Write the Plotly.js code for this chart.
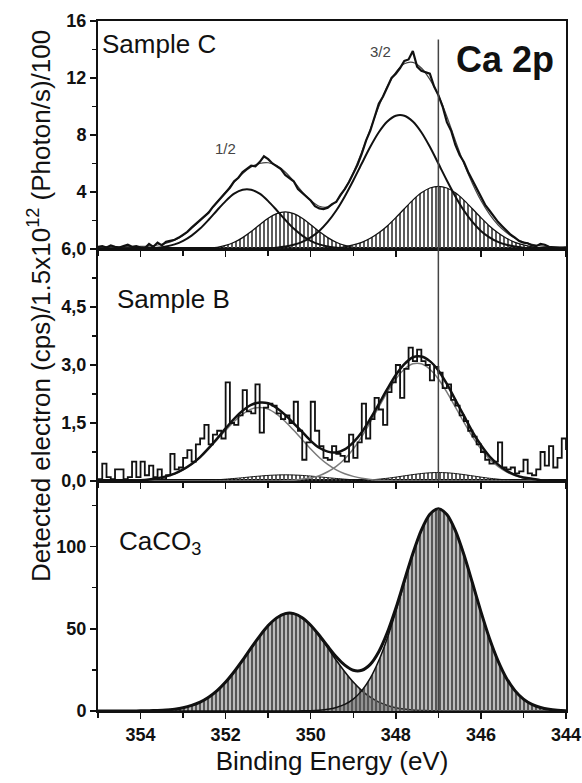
<!DOCTYPE html>
<html>
<head>
<meta charset="utf-8">
<script src="https://cdn.plot.ly/plotly-3.0.1.min.js"></script>
<style>html,body{margin:0;padding:0;background:#fff;}#chart{width:582px;height:783px;}</style>
</head>
<body>
<div id="chart"></div>
<script>
// ---------- DATA (binding energy in eV) ----------
const energyFine = [
355.0,354.9,354.8,354.7,354.6,354.5,354.4,354.3,354.2,354.1,
354.0,353.9,353.8,353.7,353.6,353.5,353.4,353.3,353.2,353.1,
353.0,352.9,352.8,352.7,352.6,352.5,352.4,352.3,352.2,352.1,
352.0,351.9,351.8,351.7,351.6,351.5,351.4,351.3,351.2,351.1,
351.0,350.9,350.8,350.7,350.6,350.5,350.4,350.3,350.2,350.1,
350.0,349.9,349.8,349.7,349.6,349.5,349.4,349.3,349.2,349.1,
349.0,348.9,348.8,348.7,348.6,348.5,348.4,348.3,348.2,348.1,
348.0,347.9,347.8,347.7,347.6,347.5,347.4,347.3,347.2,347.1,
347.0,346.9,346.8,346.7,346.6,346.5,346.4,346.3,346.2,346.1,
346.0,345.9,345.8,345.7,345.6,345.5,345.4,345.3,345.2,345.1,
345.0,344.9,344.8,344.7,344.6,344.5,344.4,344.3,344.2,344.1,
344.0];
const energyCoarse = [
355.0,354.8,354.6,354.4,354.2,354.0,353.8,353.6,353.4,353.2,
353.0,352.8,352.6,352.4,352.2,352.0,351.8,351.6,351.4,351.2,
351.0,350.8,350.6,350.4,350.2,350.0,349.8,349.6,349.4,349.2,
349.0,348.8,348.6,348.4,348.2,348.0,347.8,347.6,347.4,347.2,
347.0,346.8,346.6,346.4,346.2,346.0,345.8,345.6,345.4,345.2,
345.0,344.8,344.6,344.4,344.2,344.0];

// Sample C (panel top, units (Photon/s)/100)
const sampleC_data = [
0.15,0.2,0.1,0.25,0.15,0.1,0.2,0.3,0.15,0.2,
0.1,0.05,0.35,0.15,0.45,0.25,0.5,0.55,0.65,0.8,
1.0,1.2,1.5,1.75,2.0,2.25,2.55,2.95,3.3,3.6,
4.0,4.3,4.75,5.0,5.4,5.6,5.85,5.8,6.1,6.5,
6.3,6.0,5.8,5.6,5.2,5.0,4.75,4.2,3.95,3.65,
3.4,3.0,2.85,2.8,2.9,3.15,3.3,3.8,4.2,4.7,
5.3,5.9,6.7,7.6,8.3,9.2,10.2,10.7,11.3,12.0,
12.3,12.7,13.2,13.3,13.9,12.8,12.5,12.4,12.3,11.4,
10.8,10.0,8.9,8.3,7.3,6.6,6.1,5.4,4.8,4.2,
3.6,3.1,2.7,2.3,1.9,1.6,1.3,1.0,0.8,0.55,
0.45,0.4,0.25,0.2,0.35,0.3,0.15,0.1,0.1,0.05,
0.1];
const sampleC_envelope = [
0.15,0.15,0.15,0.16,0.17,0.18,0.2,0.28,0.4,0.62,
0.95,1.45,2.0,2.6,3.3,4.0,4.7,5.3,5.75,6.0,
6.05,5.85,5.4,4.75,4.0,3.4,3.0,2.95,3.35,4.2,
5.35,6.8,8.4,10.0,11.4,12.4,13.0,13.1,12.7,11.9,
10.8,9.3,7.6,6.0,4.6,3.4,2.45,1.7,1.15,0.75,
0.48,0.32,0.22,0.17,0.15,0.15];
const sampleC_peak12 = [
0,0,0,0,0,0.02,0.04,0.08,0.17,0.32,
0.57,0.94,1.43,2.05,2.72,3.36,3.88,4.16,4.16,3.88,
3.36,2.72,2.05,1.43,0.94,0.57,0.32,0.17,0.08,0.04,
0.02,0,0,0,0,0,0,0,0,0,
0,0,0,0,0,0,0,0,0,0,
0,0,0,0,0,0];
const sampleC_peak32 = [
0,0,0,0,0,0,0,0,0,0,
0,0,0,0,0,0,0,0,0.01,0.02,
0.05,0.09,0.17,0.30,0.50,0.82,1.27,1.90,2.70,3.69,
4.81,6.0,7.17,8.19,8.94,9.35,9.35,8.94,8.19,7.17,
6.0,4.81,3.69,2.70,1.90,1.27,0.82,0.50,0.30,0.17,
0.09,0.05,0.02,0.01,0,0];
const sampleC_shaded12 = [
0,0,0,0,0,0,0,0,0,0,
0,0.01,0.02,0.06,0.12,0.25,0.47,0.80,1.22,1.70,
2.16,2.48,2.60,2.48,2.16,1.70,1.22,0.80,0.47,0.25,
0.12,0.06,0.02,0.01,0,0,0,0,0,0,
0,0,0,0,0,0,0,0,0,0,
0,0,0,0,0,0];
const sampleC_shaded32 = [
0,0,0,0,0,0,0,0,0,0,
0,0,0,0,0,0,0,0,0,0,
0,0,0,0,0,0,0.02,0.04,0.08,0.15,
0.28,0.47,0.75,1.14,1.62,2.20,2.82,3.43,3.94,4.28,
4.40,4.28,3.94,3.43,2.82,2.20,1.62,1.14,0.75,0.47,
0.28,0.15,0.08,0.04,0.02,0.01];

// Sample B (middle panel)
const sampleB_data = [
0.05,0.45,0.1,0.05,0.3,0.3,0.05,0.1,0.5,0.1,
0.5,0.15,0.4,0.1,0.3,0.05,0.15,0.7,0.3,0.35,
0.6,0.8,0.5,0.95,1.1,1.45,0.95,1.2,1.3,1.1,
2.55,1.5,1.45,1.7,2.35,1.8,1.75,2.5,1.25,1.9,
2.0,1.95,1.75,1.6,1.7,1.5,2.05,1.3,0.55,1.0,
2.05,1.3,0.9,0.6,0.55,0.9,0.7,0.65,0.5,1.2,
0.6,1.0,2.0,1.1,1.6,2.15,1.85,1.45,2.3,2.55,
3.0,2.15,2.9,3.45,3.1,3.4,3.1,3.0,2.6,2.95,
2.8,2.4,2.5,2.1,1.95,1.7,1.55,1.3,1.15,0.95,
0.75,0.55,0.45,0.5,1.0,0.35,0.3,0.35,0.2,0.25,
0.55,0.2,0.15,0.3,0.75,0.4,0.9,0.35,0.6,1.1,
0.8];
const sampleB_envelope = [
0,0,0,0,0.01,0.02,0.04,0.07,0.12,0.19,
0.30,0.44,0.62,0.85,1.10,1.36,1.61,1.82,1.97,2.03,
2.01,1.89,1.71,1.49,1.27,1.04,0.86,0.76,0.74,0.82,
1.00,1.26,1.61,1.99,2.38,2.74,3.02,3.20,3.22,3.10,
2.86,2.51,2.10,1.69,1.28,0.93,0.64,0.43,0.27,0.16,
0.09,0.06,0.02,0.01,0,0];
const sampleB_peak12 = [
0,0,0,0,0.01,0.02,0.04,0.07,0.12,0.19,
0.29,0.43,0.61,0.83,1.07,1.31,1.54,1.73,1.86,1.90,
1.86,1.73,1.54,1.31,1.07,0.83,0.61,0.43,0.29,0.19,
0.12,0.07,0.04,0.02,0.01,0,0,0,0,0,
0,0,0,0,0,0,0,0,0,0,
0,0,0,0,0,0];
const sampleB_peak32 = [
0,0,0,0,0,0,0,0,0,0,
0,0,0,0,0,0,0,0,0,0,
0,0,0.01,0.02,0.05,0.08,0.14,0.24,0.38,0.57,
0.83,1.15,1.52,1.91,2.30,2.64,2.89,3.03,3.03,2.89,
2.64,2.30,1.91,1.52,1.15,0.83,0.57,0.38,0.24,0.14,
0.08,0.05,0.02,0.01,0,0];
const sampleB_shaded12 = [
0,0,0,0,0,0,0,0,0,0,
0.005,0.008,0.014,0.022,0.033,0.048,0.066,0.086,0.108,0.128,
0.145,0.156,0.16,0.156,0.145,0.128,0.108,0.086,0.066,0.048,
0.033,0.022,0.014,0.008,0.005,0,0,0,0,0,
0,0,0,0,0,0,0,0,0,0,
0,0,0,0,0,0];
const sampleB_shaded32 = [
0,0,0,0,0,0,0,0,0,0,
0,0,0,0,0,0,0,0,0,0,
0,0,0,0,0,0,0,0,0,0.005,
0.010,0.017,0.030,0.048,0.072,0.101,0.134,0.166,0.194,0.213,
0.22,0.213,0.194,0.166,0.134,0.101,0.072,0.048,0.030,0.017,
0.010,0.005,0,0,0,0];

// CaCO3 (bottom panel)
const caco3_peak12 = [
0,0,0,0,0,0.08,0.16,0.33,0.62,1.15,
2.0,3.4,5.4,8.4,12.4,17.6,23.9,30.9,38.4,45.6,
52.0,56.7,59.3,59.3,56.7,52.0,45.6,38.4,30.9,23.9,
17.6,12.4,8.4,5.4,3.4,2.0,1.15,0.62,0.33,0.16,
0.08,0,0,0,0,0,0,0,0,0,
0,0,0,0,0,0];
const caco3_peak32 = [
0,0,0,0,0,0,0,0,0,0,
0,0,0,0,0,0,0,0,0,0,
0,0,0,0,0.09,0.21,0.47,1.0,2.1,4.0,
7.2,12.4,20.0,30.7,44.3,60.5,78.1,95.3,109.8,119.6,
123,119.6,109.8,95.3,78.1,60.5,44.3,30.7,20.0,12.4,
7.2,4.0,2.1,1.0,0.47,0.21];
const caco3_envelope = [
0,0,0,0,0,0.08,0.16,0.33,0.62,1.15,
2.0,3.4,5.4,8.4,12.4,17.6,23.9,30.9,38.4,45.6,
52.0,56.7,59.3,59.3,56.8,52.2,46.1,39.4,33.0,27.9,
24.8,24.8,28.4,36.1,47.7,62.5,79.3,95.9,110.1,119.8,
123.1,119.6,109.8,95.3,78.1,60.5,44.3,30.7,20.0,12.4,
7.2,4.0,2.1,1.0,0.47,0.21];

const referenceEnergy = 347.0;
const topTickVals = [4,8,12,16];
const topTickText = ['4', '8', '12', '16'];
const midTickVals = [0,1.5,3,4.5,6];
const midTickText = ['0,0', '1,5', '3,0', '4,5', '6,0'];
const botTickVals = [0,50,100];
const botTickText = ['0', '50', '100'];

// ---------- STYLES ----------
const FONT = 'Liberation Sans, Arial, Helvetica, sans-serif';
const lightHatch = {shape:'|', fgcolor:'#4a4a4a', bgcolor:'rgba(255,255,255,0)', size:4, solidity:0.45};
const darkHatch  = {shape:'|', fgcolor:'#555555', bgcolor:'rgba(255,255,255,0)', size:4, solidity:0.7};

function hatched(x, y, xa, ya, pat, lw) {
  return {x:x, y:y, xaxis:xa, yaxis:ya, type:'scatter', mode:'lines', fill:'tozeroy',
    fillcolor:'rgba(0,0,0,0)', fillpattern:pat,
    line:{color:'#111', width:lw, shape:'spline', smoothing:0.8}, hoverinfo:'skip'};
}
function curve(x, y, xa, ya, color, w, shape) {
  return {x:x, y:y, xaxis:xa, yaxis:ya, type:'scatter', mode:'lines',
    line:{color:color, width:w, shape:shape || 'spline', smoothing:0.8}, hoverinfo:'skip'};
}

const traces = [
  // top: Sample C
  hatched(energyCoarse, sampleC_shaded12, 'x3', 'y3', lightHatch, 1.3),
  hatched(energyCoarse, sampleC_shaded32, 'x3', 'y3', lightHatch, 1.3),
  curve(energyCoarse, sampleC_peak12, 'x3', 'y3', '#111', 2),
  curve(energyCoarse, sampleC_peak32, 'x3', 'y3', '#111', 2),
  curve(energyCoarse, sampleC_envelope, 'x3', 'y3', '#444', 1.2),
  curve(energyFine, sampleC_data, 'x3', 'y3', '#111', 2.2, 'linear'),
  // middle: Sample B
  hatched(energyCoarse, sampleB_shaded12, 'x2', 'y2', lightHatch, 1),
  hatched(energyCoarse, sampleB_shaded32, 'x2', 'y2', lightHatch, 1),
  curve(energyCoarse, sampleB_peak12, 'x2', 'y2', '#7a7a7a', 1.5),
  curve(energyCoarse, sampleB_peak32, 'x2', 'y2', '#7a7a7a', 1.5),
  curve(energyFine, sampleB_data, 'x2', 'y2', '#111', 1.8, 'hv'),
  curve(energyCoarse, sampleB_envelope, 'x2', 'y2', '#111', 2.5),
  // bottom: CaCO3
  hatched(energyCoarse, caco3_peak12, 'x', 'y', darkHatch, 1.5),
  hatched(energyCoarse, caco3_peak32, 'x', 'y', darkHatch, 1.5),
  curve(energyCoarse, caco3_envelope, 'x', 'y', '#111', 3)
];

const tickFont = {family:FONT, size:18, color:'#111', weight:'bold'};
function xAxis(anchor, labels, extra) {
  return Object.assign({
    anchor:anchor, range:[355,344], domain:[0,1], showgrid:false, zeroline:false,
    showline:true, linecolor:'#111', linewidth:2, mirror:true,
    ticks:'outside', ticklen:6, tickwidth:1.5, tickcolor:'#111',
    tick0:344, dtick:2, showticklabels:labels, tickfont:tickFont,
    minor:{dtick:1, ticks:'outside', ticklen:5, tickwidth:1.5, tickcolor:'#111'}
  }, extra || {});
}
function yAxis(domain, range, vals, text, minorStep) {
  return {
    anchor:'x', domain:domain, range:range, showgrid:false, zeroline:false,
    showline:true, linecolor:'#111', linewidth:2, mirror:true,
    ticks:'outside', ticklen:6, tickwidth:1.5, tickcolor:'#111',
    tickmode:'array', tickvals:vals, ticktext:text, tickfont:tickFont,
    minor:{tickmode:'linear', tick0:0, dtick:minorStep, ticks:'outside', ticklen:4, tickwidth:1.2, tickcolor:'#111'}
  };
}

const dTop = [0.6696, 1], dMid = [0.3333, 0.6696], dBot = [0, 0.3333];

const layout = {
  width:582, height:783,
  margin:{l:98, r:16, t:21, b:72},
  paper_bgcolor:'#fff', plot_bgcolor:'#fff',
  showlegend:false,
  font:{family:FONT, color:'#111'},
  xaxis: xAxis('y', true, {title:{text:'Binding Energy (eV)', font:{family:FONT, size:26, color:'#111'}, standoff:8}}),
  xaxis2: xAxis('y2', false, {matches:'x'}),
  xaxis3: xAxis('y3', false, {matches:'x'}),
  yaxis: yAxis(dBot, [0,140], botTickVals, botTickText, 25),
  yaxis2: Object.assign(yAxis(dMid, [0,6], midTickVals, midTickText, 0.75), {anchor:'x2'}),
  yaxis3: Object.assign(yAxis(dTop, [0,16], topTickVals, topTickText, 2), {anchor:'x3'}),
  shapes:[
    {type:'line', xref:'x3', yref:'y3', x0:referenceEnergy, x1:referenceEnergy, y0:0, y1:14.7, line:{color:'#444', width:1.5}, layer:'above'},
    {type:'line', xref:'x2', yref:'y2', x0:referenceEnergy, x1:referenceEnergy, y0:0, y1:6, line:{color:'#444', width:1.5}, layer:'above'},
    {type:'line', xref:'x', yref:'y', x0:referenceEnergy, x1:referenceEnergy, y0:0, y1:123, line:{color:'#444', width:1.5}, layer:'above'}
  ],
  annotations:[
    {xref:'paper', yref:'paper', x:0.004, y:0.9667, xanchor:'left', yanchor:'middle', showarrow:false,
     text:'Sample C', font:{family:FONT, size:26, color:'#111'}},
    {xref:'paper', yref:'paper', x:0.036, y:0.5971, xanchor:'left', yanchor:'middle', showarrow:false,
     text:'Sample B', font:{family:FONT, size:26, color:'#111'}},
    {xref:'paper', yref:'paper', x:0.040, y:0.2435, xanchor:'left', yanchor:'middle', showarrow:false,
     text:'CaCO<sub>3</sub>', font:{family:FONT, size:26, color:'#111'}},
    {xref:'paper', yref:'paper', x:0.8697, y:0.9435, xanchor:'center', yanchor:'middle', showarrow:false,
     text:'<b>Ca 2p</b>', font:{family:FONT, size:36, color:'#111'}},
    {xref:'paper', yref:'paper', x:0.2735, y:0.8159, xanchor:'center', yanchor:'middle', showarrow:false,
     text:'1/2', font:{family:FONT, size:15, color:'#444'}},
    {xref:'paper', yref:'paper', x:0.6047, y:0.9551, xanchor:'center', yanchor:'middle', showarrow:false,
     text:'3/2', font:{family:FONT, size:15, color:'#444'}},
    {xref:'paper', yref:'paper', x:-0.124, y:0.587, xanchor:'center', yanchor:'middle', showarrow:false, textangle:-90,
     text:'Detected electron (cps)/1.5x10<sup>12</sup> (Photon/s)/100', font:{family:FONT, size:26, color:'#111'}}
  ]
};

Plotly.newPlot('chart', traces, layout, {staticPlot:true, displayModeBar:false});
</script>
</body>
</html>
